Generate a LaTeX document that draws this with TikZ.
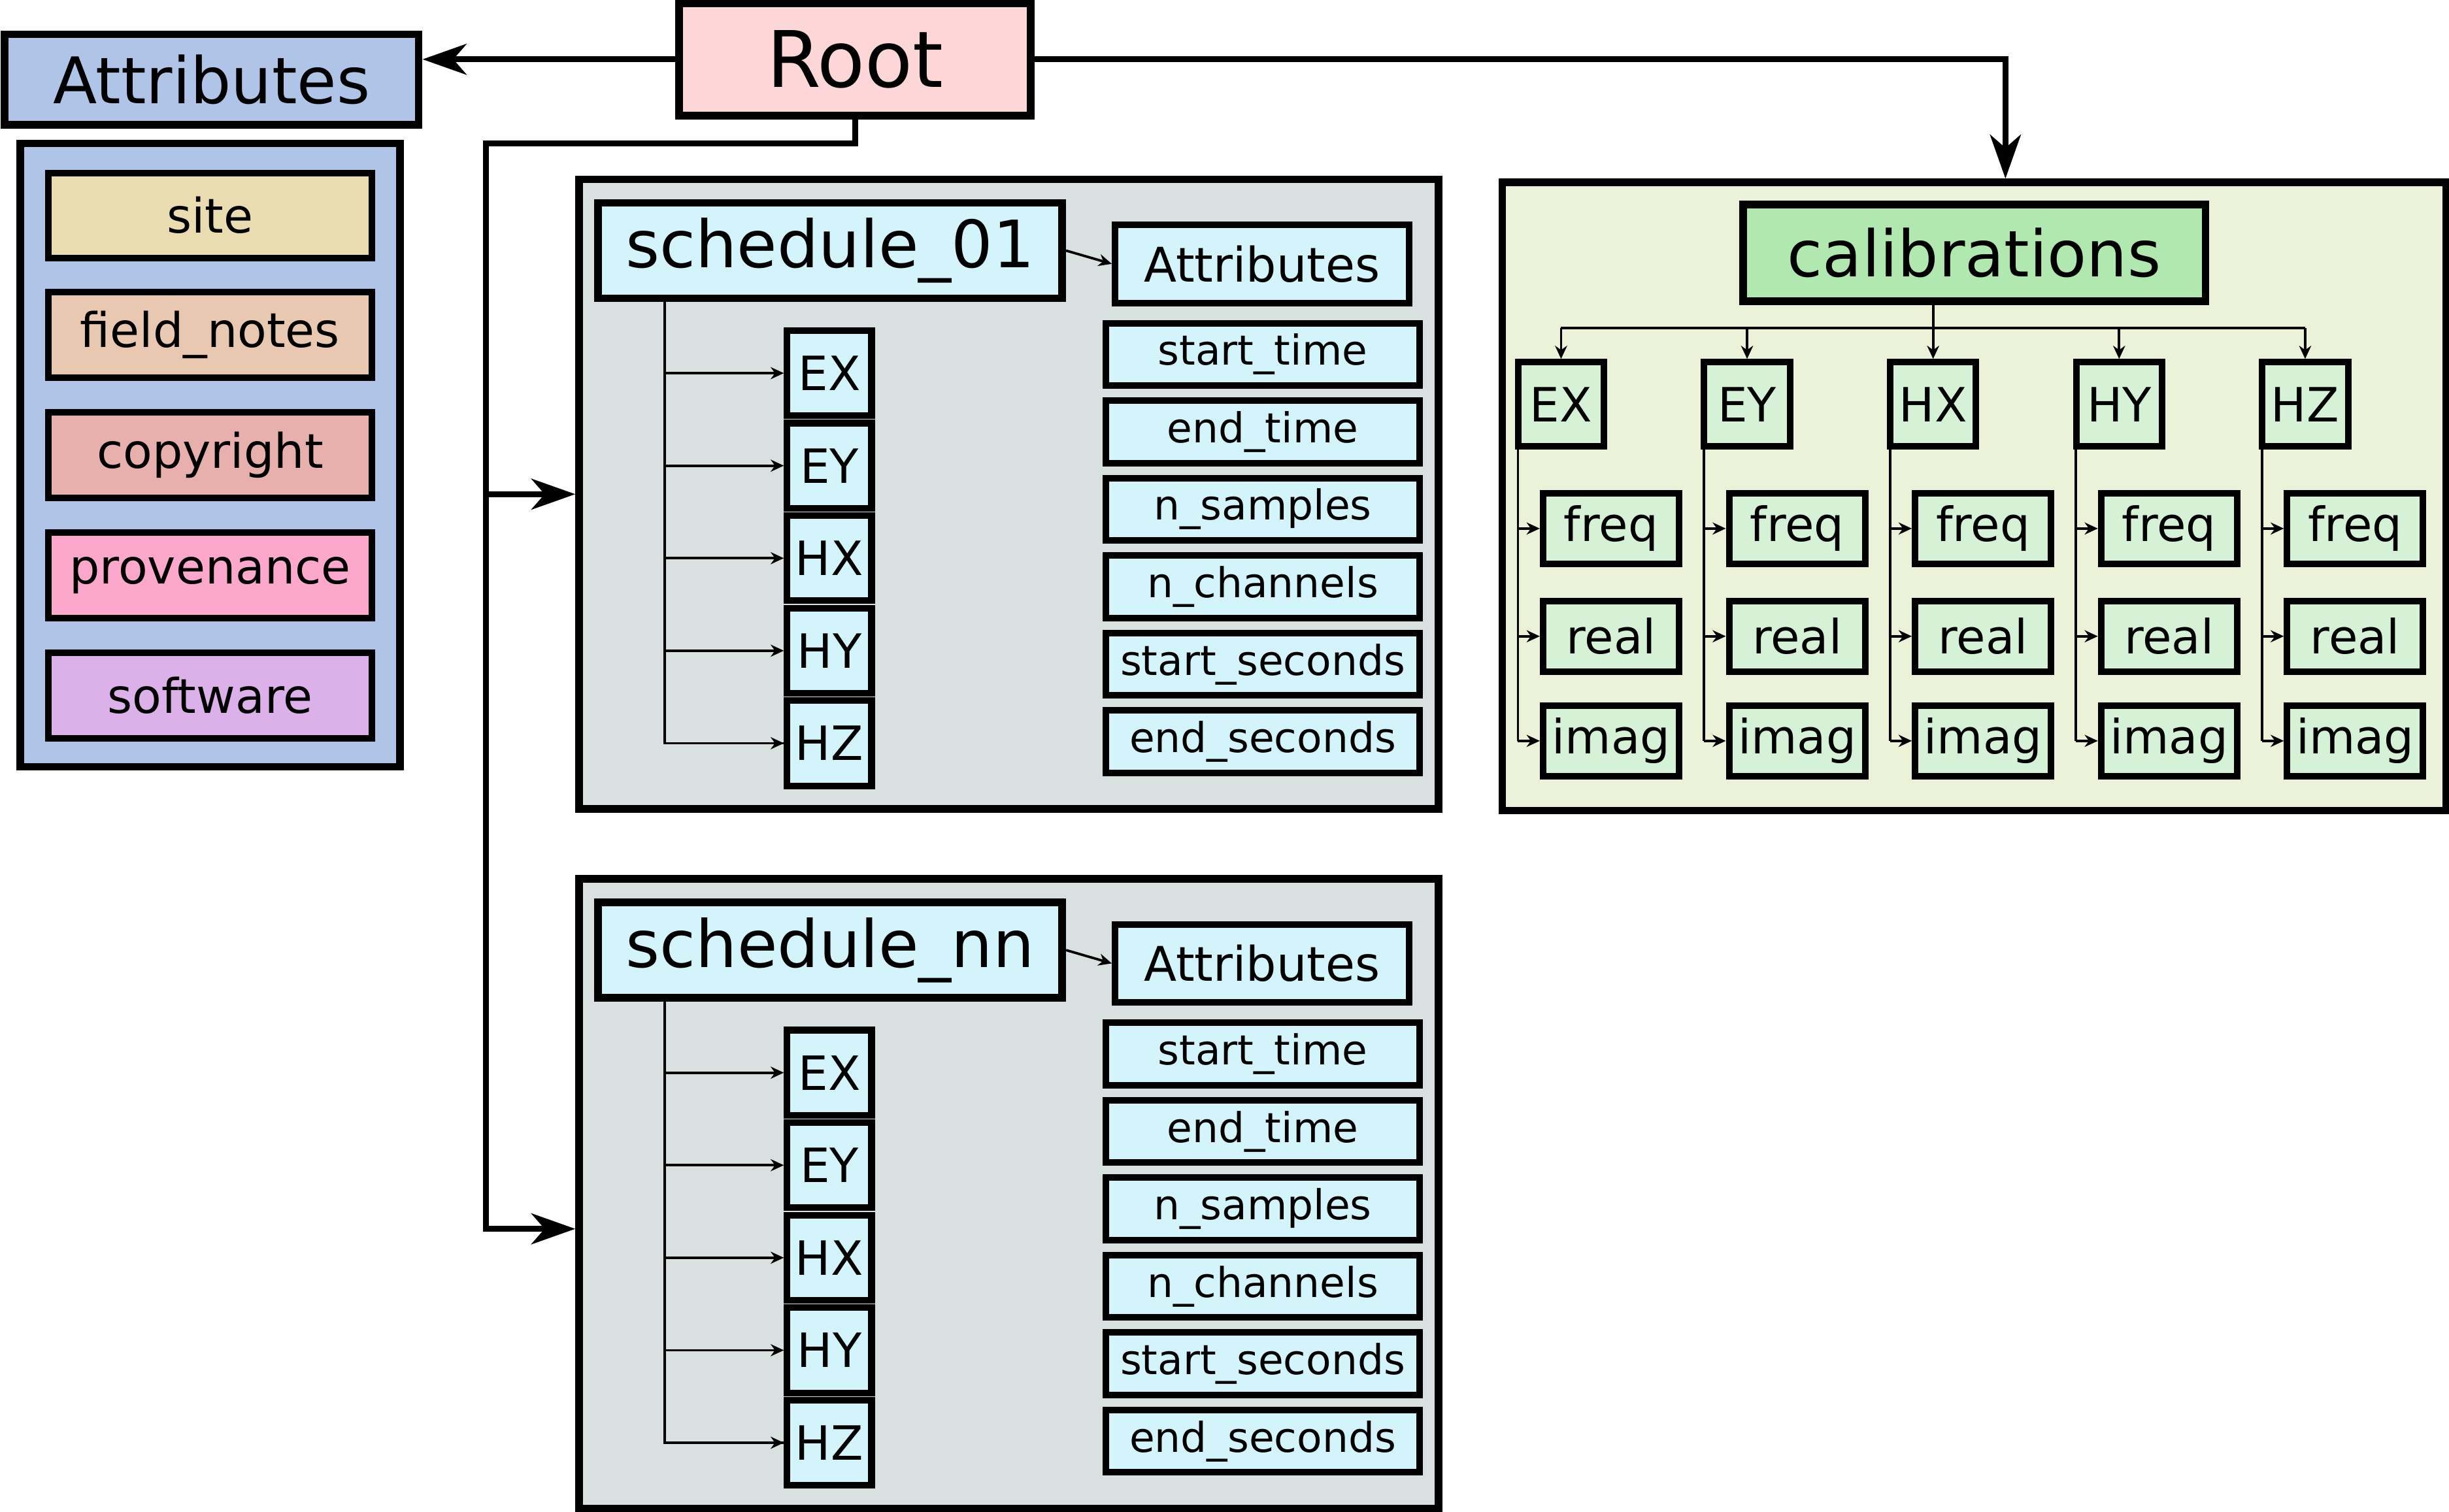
\documentclass[tikz,border=0pt]{standalone}
\usepackage{fontspec}
\setmainfont{DejaVu Sans}
\usetikzlibrary{arrows.meta,calc}

\definecolor{rootpink}{HTML}{FDD7D7}
\definecolor{attrblue}{HTML}{B0C4E8}
\definecolor{sitecol}{HTML}{E8DCB0}
\definecolor{notescol}{HTML}{E8C8B0}
\definecolor{copycol}{HTML}{E8B0AC}
\definecolor{provcol}{HTML}{FCA8CC}
\definecolor{softcol}{HTML}{DCB0E8}
\definecolor{schedgrey}{HTML}{D9E1E0}
\definecolor{schedcyan}{HTML}{D4F4FC}
\definecolor{calbg}{HTML}{ECF2D8}
\definecolor{calgreen}{HTML}{B0E8B0}
\definecolor{chgreen}{HTML}{D6F2D6}

\newcommand{\fsz}[1]{\fontsize{#1pt}{#1pt}\selectfont}

\begin{document}
\begin{tikzpicture}[x=0.01cm, y=-0.01cm,
  frame/.style={draw, line width=1.4pt, inner sep=0pt},
  box/.style={draw, line width=1.2pt, inner sep=0pt},
  attritem/.style={box, minimum width=2.07cm, minimum height=0.545cm, font=\fsz{8.7}},
  schedframe/.style={frame, fill=schedgrey, minimum width=5.5cm, minimum height=4.03cm},
  schedname/.style={frame, fill=schedcyan, minimum width=2.97cm, minimum height=0.61cm, font=\fsz{11.9}},
  schedattr/.style={box, fill=schedcyan, minimum width=1.88cm, minimum height=0.5cm, font=\fsz{8.7}},
  listitem/.style={box, fill=schedcyan, minimum width=2.01cm, minimum height=0.4cm, font=\fsz{7.5}},
  chan/.style={box, fill=schedcyan, minimum width=0.54cm, minimum height=0.545cm, font=\fsz{8.6}},
  calchan/.style={box, fill=chgreen, minimum width=0.55cm, minimum height=0.54cm, font=\fsz{8.6}},
  calsub/.style={box, fill=chgreen, minimum width=0.87cm, minimum height=0.45cm, font=\fsz{8.6}},
  bigarr/.style={-{Stealth[length=8pt, width=5.6pt, inset=2.4pt]}, line width=1.1pt},
  arr/.style={-{Stealth[length=2.4pt, width=2.2pt]}, line width=0.45pt}]
\useasboundingbox (0,0) rectangle (1568,968);

% root and its attributes
\node[frame, fill=rootpink, minimum width=2.25cm, minimum height=0.72cm, font=\fsz{14.2}] (root) at (547.5,38) {Root};
\node[frame, fill=attrblue, minimum width=2.65cm, minimum height=0.58cm, font=\fsz{11.7}] (attr) at (135.5,51) {Attributes};
\node[frame, fill=attrblue, minimum width=2.43cm, minimum height=3.99cm] (attrgrp) at (134.5,291.5) {};
\node[attritem, fill=sitecol] (site) at (134.5,138) {site};
\node[attritem, fill=notescol] (notes) at (134.5,214.5) {field\_notes};
\node[attritem, fill=copycol] (copy) at (134.5,291.5) {copyright};
\node[attritem, fill=provcol] (prov) at (134.5,368.5) {provenance};
\node[attritem, fill=softcol] (soft) at (134.5,445.5) {software};

% schedules
\foreach \s/\lab/\dy in {s1/schedule\_01/0, sn/schedule\_nn/448} {
  \node[schedframe] (\s) at (646,316.5+\dy) {};
  \node[schedname] (\s-name) at (531.5,160.5+\dy) {\lab};
  \node[schedattr] (\s-attr) at (808,169+\dy) {Attributes};
  \draw[arr] (\s-name.east) -- (\s-attr.west);
  \foreach \a [count=\i from 0] in {start\_time, end\_time, n\_samples, n\_channels, start\_seconds, end\_seconds}
    \node[listitem] (\s-a\i) at (808.5,227+49.6*\i+\dy) {\a};
  \foreach \c [count=\i from 0] in {EX,EY,HX,HY,HZ}
    \node[chan] (\s-\c) at (531,239+59.25*\i+\dy) {\c};
  \draw[line width=0.45pt] (\s-name.south west) ++(45,0) coordinate (\s-trunk)
    -- (\s-trunk |- \s-HZ.west) -- (\s-HZ.west);
  \foreach \c in {EX,EY,HX,HY,HZ}
    \draw[arr] (\s-trunk |- \s-\c.west) -- (\s-\c.west);
}

% calibrations
\node[frame, fill=calbg, minimum width=6.04cm, minimum height=4.02cm] (calgrp) at (1264,318) {};
\node[frame, fill=calgreen, minimum width=2.96cm, minimum height=0.62cm, font=\fsz{11.7}] (cal) at (1264,162) {calibrations};
\coordinate (bus) at (0,210);
\foreach \c [count=\i from 0] in {EX,EY,HX,HY,HZ} {
  \node[calchan] (c-\c) at (999.5+119.1*\i,259) {\c};
  \foreach \q/\yy in {freq/338.5, real/407.5, imag/474.5}
    \node[calsub] (c-\c-\q) at (1031.5+119.1*\i,\yy) {\q};
  \draw[arr] (c-\c.north |- bus) -- (c-\c.north);
  \draw[line width=0.45pt] (c-\c.south west) ++(2,0) coordinate (c-\c-trunk)
    -- (c-\c-trunk |- c-\c-imag.west);
  \foreach \q in {freq,real,imag}
    \draw[arr] (c-\c-trunk |- c-\c-\q.west) -- (c-\c-\q.west);
}
\draw[line width=0.45pt] (cal.south -| c-HX) -- (c-HX |- bus);
\draw[line width=0.45pt] (c-EX |- bus) -- (c-HZ |- bus);

% root connectors
\coordinate (split) at (311,92);
\draw[bigarr] (root.west) -- (root.west -| attr.east);
\draw[bigarr] (root.east) -| ([xshift=0.2cm]calgrp.north);
\draw[bigarr] (root.south) |- (split) |- (s1.west);
\draw[bigarr] (split) |- ([yshift=-0.225cm]sn.west);
\end{tikzpicture}
\end{document}
